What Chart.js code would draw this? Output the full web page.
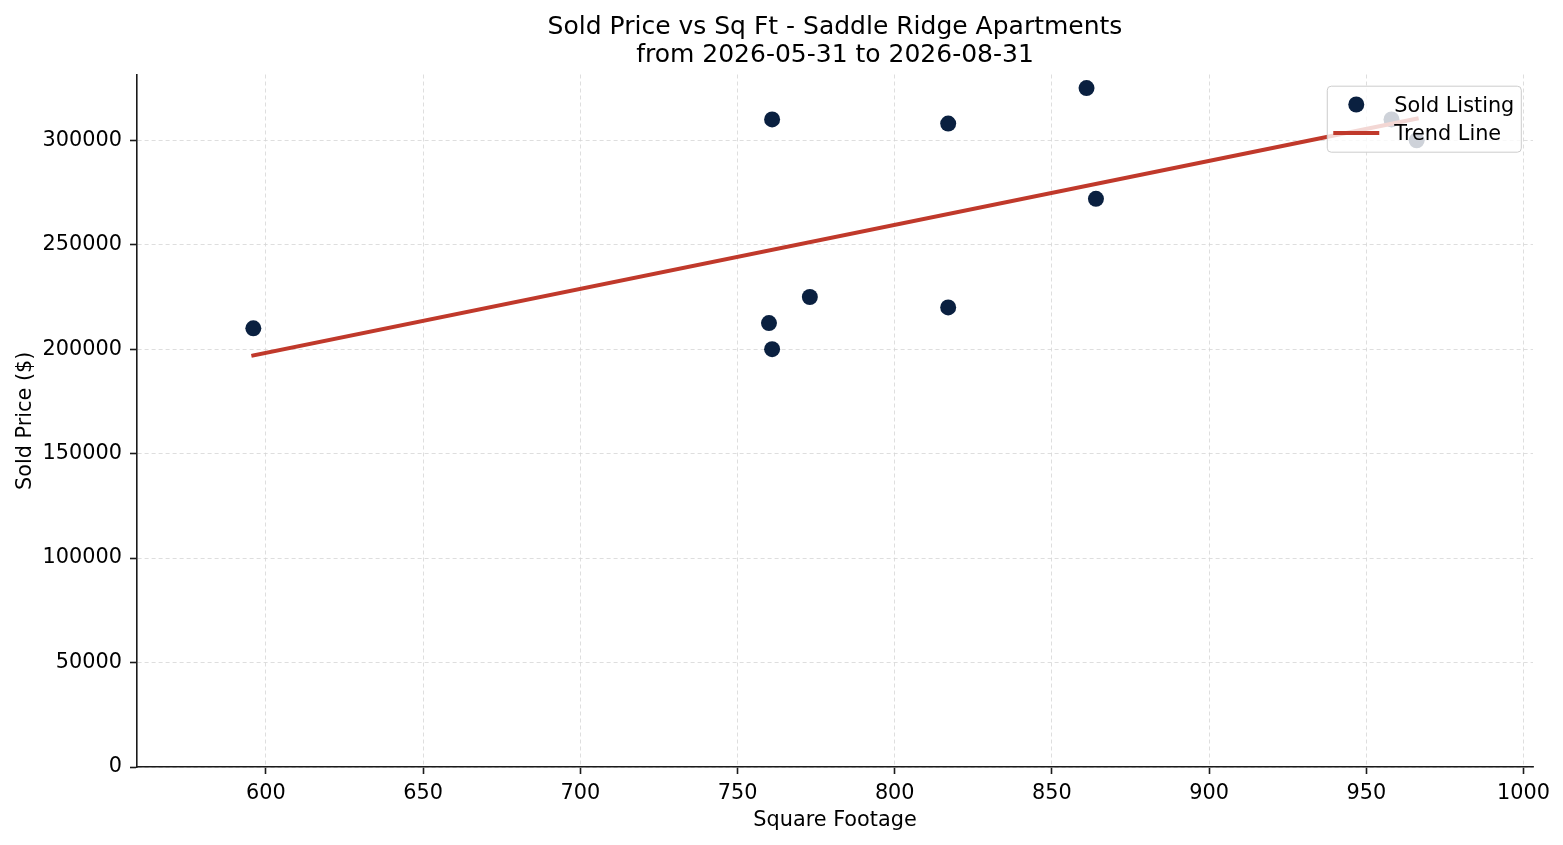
<!DOCTYPE html>
<html>
<head>
<meta charset="utf-8">
<title>Sold Price vs Sq Ft</title>
<style>
    html, body { margin: 0; padding: 0; background: #fff; }
    #wrap { width: 1563px; height: 845px; }
</style>
<script src="https://cdn.jsdelivr.net/npm/chart.js@4.4.1/dist/chart.umd.min.js"></script>
</head>
<body>
<div id="wrap"><canvas id="chart" width="1563" height="845"></canvas></div>
<script>
// sold listings
const sqftValues = [596, 760, 761, 761, 773, 817, 817, 861, 864, 958, 966];
const soldPrices = [210000, 212500, 200000, 310000, 225000, 308000, 220000, 325000, 272000, 310000, 300000];

// trend line end points
const trendSqft = [596, 966];
const trendPrices = [197000, 310400];

// axis ticks
const xTicks = [600, 650, 700, 750, 800, 850, 900, 950, 1000];
const yTicks = [0, 50000, 100000, 150000, 200000, 250000, 300000];

const titleLines = ['Sold Price vs Sq Ft - Saddle Ridge Apartments', 'from 2026-05-31 to 2026-08-31'];

document.addEventListener('DOMContentLoaded', () => {
    const FONT = 'DejaVu Sans';
    const INK = '#1a1a1a';

    Chart.defaults.font.family = FONT;
    Chart.defaults.font.size = 20.8;
    Chart.defaults.color = '#000';

    const scatterPoints = sqftValues.map((x, i) => ({ x: x, y: soldPrices[i] }));
    const trendPoints = trendSqft.map((x, i) => ({ x: x, y: trendPrices[i] }));

    // matplotlib style legend in the upper right corner of the plot
    const cornerLegend = {
        id: 'cornerLegend',
        afterDatasetsDraw(chart) {
            const ctx = chart.ctx;
            const area = chart.chartArea;
            const sets = chart.data.datasets;
            ctx.save();
            ctx.font = '20.8px "' + FONT + '"';
            const textW = Math.max(...sets.map(d => ctx.measureText(d.label).width));
            const w = 6 + 46 + 15 + textW + 7;
            const h = 66;
            const right = area.right - 11.7;
            const top = area.top + 11.7;
            const left = right - w;

            ctx.beginPath();
            ctx.roundRect(left, top, w, h, 4);
            ctx.fillStyle = 'rgba(255,255,255,0.8)';
            ctx.fill();
            ctx.lineWidth = 1;
            ctx.strokeStyle = '#cccccc';
            ctx.stroke();

            sets.forEach((d, i) => {
                const cy = top + 18.3 + i * 28.4;
                if (d.showLine) {
                    ctx.beginPath();
                    ctx.moveTo(left + 6, cy);
                    ctx.lineTo(left + 52, cy);
                    ctx.lineWidth = d.borderWidth;
                    ctx.strokeStyle = d.borderColor;
                    ctx.stroke();
                } else {
                    ctx.beginPath();
                    ctx.arc(left + 29, cy, d.pointRadius, 0, Math.PI * 2);
                    ctx.fillStyle = d.backgroundColor;
                    ctx.fill();
                }
                ctx.fillStyle = '#000';
                ctx.textAlign = 'left';
                ctx.textBaseline = 'alphabetic';
                ctx.fillText(d.label, left + 67, cy + 7);
            });
            ctx.restore();
        }
    };

    const gridLook = {
        color: '#d6d6d6',
        lineWidth: 0.8,
        drawTicks: true,
        tickLength: 7,
        tickColor: INK,
        tickWidth: 1.6,
        tickBorderDash: []
    };
    const borderLook = { display: true, color: INK, width: 1.6, dash: [4, 3] };

    new Chart(document.getElementById('chart'), {
        type: 'scatter',
        data: {
            datasets: [{
                label: 'Sold Listing',
                data: scatterPoints,
                backgroundColor: '#0a2040',
                borderWidth: 0,
                pointRadius: 8,
                pointHoverRadius: 8,
                order: 2
            }, {
                label: 'Trend Line',
                data: trendPoints,
                showLine: true,
                borderColor: '#c0392b',
                borderWidth: 4,
                borderCapStyle: 'square',
                pointRadius: 0,
                pointHoverRadius: 0,
                fill: false,
                order: 1
            }]
        },
        options: {
            responsive: false,
            animation: false,
            events: [],
            layout: { padding: { left: 0, right: 30, top: 0, bottom: 0 } },
            plugins: {
                legend: { display: false },
                tooltip: { enabled: false },
                title: {
                    display: true,
                    text: titleLines,
                    fullSize: false,
                    color: '#000',
                    font: { size: 25, weight: 'normal', lineHeight: 1.12 },
                    padding: { top: 13, bottom: 5.5 }
                }
            },
            scales: {
                x: {
                    type: 'linear',
                    min: 559,
                    max: 1003,
                    afterBuildTicks: s => { s.ticks = xTicks.map(v => ({ value: v })); },
                    afterFit: s => { s.height = 78; },
                    ticks: { callback: v => String(v), padding: 7, maxRotation: 0, autoSkip: false, color: '#000' },
                    grid: gridLook,
                    border: borderLook,
                    title: {
                        display: true,
                        text: 'Square Footage',
                        color: '#000',
                        font: { size: 20.8 },
                        padding: { top: 0, bottom: 12 }
                    }
                },
                y: {
                    type: 'linear',
                    min: 0,
                    max: 331500,
                    afterBuildTicks: s => { s.ticks = yTicks.map(v => ({ value: v })); },
                    afterFit: s => { s.width = 137; },
                    ticks: { callback: v => String(v), padding: 8, autoSkip: false, color: '#000' },
                    grid: gridLook,
                    border: borderLook,
                    title: {
                        display: true,
                        text: 'Sold Price ($)',
                        color: '#000',
                        font: { size: 20.8 },
                        padding: { top: 13, bottom: 0 }
                    }
                }
            }
        },
        plugins: [cornerLegend]
    });
});
</script>
</body>
</html>
